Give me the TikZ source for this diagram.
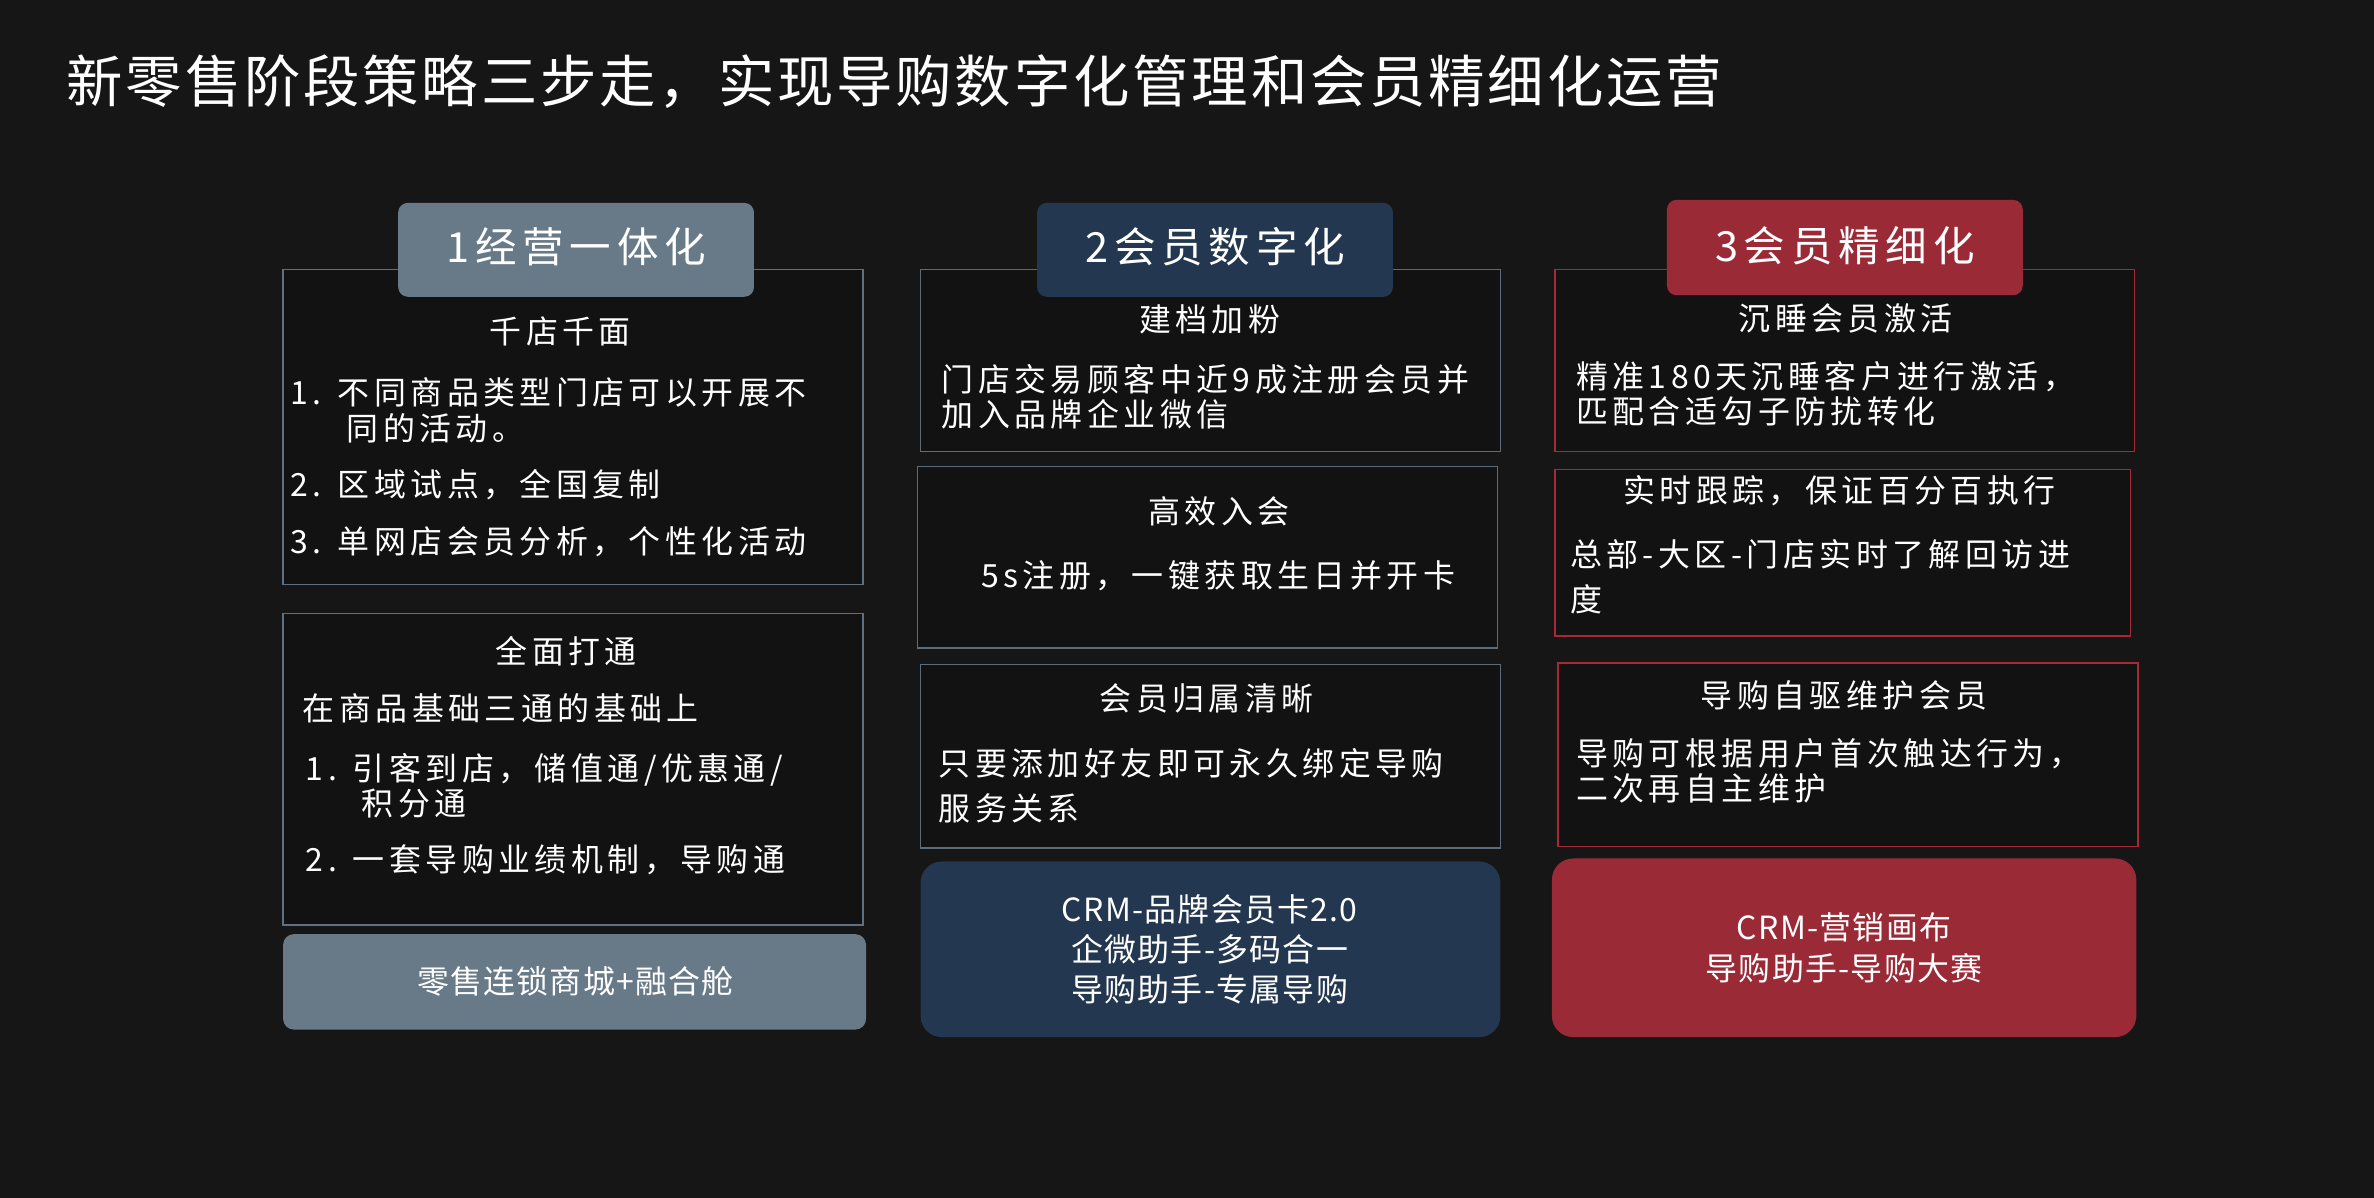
\documentclass[tikz,border=0pt]{standalone}
\usepackage{fontspec}
\setmainfont{Noto Sans CJK SC}
\newfontfamily\spacedfont[LetterSpace=14]{Noto Sans CJK SC}
\newfontfamily\titlefont[LetterSpace=5]{Noto Sans CJK SC}
\newfontfamily\botfont[LetterSpace=4]{Noto Sans CJK SC}
\begin{document}
\begin{tikzpicture}[x=0.1cm,y=-0.1cm,
  txt/.style={text=white,inner sep=0pt,font=\spacedfont\fontsize{60}{72}\selectfont},
  lt/.style={txt,anchor=west,align=left,font=\spacedfont\fontsize{60}{66}\selectfont},
  hdr/.style={rounded corners=18pt,text=white},
  bx/.style={line width=2.5pt,fill=boxbg},
  bot/.style={rounded corners=40pt},
  bt/.style={text=white,inner sep=0pt,align=center,font=\botfont\fontsize{60}{76}\selectfont}]
\definecolor{bg}{HTML}{171616}
\definecolor{boxbg}{HTML}{121212}
\definecolor{cgrey}{HTML}{687A88}
\definecolor{cnavy}{HTML}{243750}
\definecolor{cred}{HTML}{9B2A37}
\definecolor{bgrey}{HTML}{5F7180}
\definecolor{bnavy}{HTML}{5C6B78}
\definecolor{bred}{HTML}{A52A38}
\fill[bg] (0,0) rectangle (1568,791);
\useasboundingbox (0,0) rectangle (1568,791);
\node[txt,anchor=west,font=\titlefont\fontsize{106}{120}\selectfont] (title) at (44,54) {新零售阶段策略三步走，实现导购数字化管理和会员精细化运营};
% column 1
\draw[bx,draw=bgrey] (187,178) rectangle (570,386);
\draw[bx,draw=bgrey] (187,405) rectangle (570,611);
\fill[hdr,fill=cgrey] (263,134) rectangle (498,196);
\node[txt,font=\spacedfont\fontsize{78}{90}\selectfont] (h1) at (380.5,163) {1经营一体化};
\node[txt] (a1) at (370,219) {千店千面};
\node[lt] (a2) at (192,271) {1.\enspace 不同商品类型门店可以开展不\\\hspace{1.75em}同的活动。};
\node[lt] (a3) at (192,320) {2.\enspace 区域试点，全国复制};
\node[lt] (a4) at (192,358) {3.\enspace 单网店会员分析，个性化活动};
\node[txt] (b1) at (374,430) {全面打通};
\node[lt] (b2) at (200,468) {在商品基础三通的基础上};
\node[lt] (b3) at (202,519) {1.\enspace 引客到店，储值通/优惠通/\\\hspace{1.75em}积分通};
\node[lt] (b4) at (202,568) {2.\enspace 一套导购业绩机制，导购通};
\fill[rounded corners=20pt,fill=cgrey] (187,617) rectangle (572,680);
\node[bt] (c1) at (380,648) {零售连锁商城+融合舱};
% column 2
\draw[bx,draw=bnavy] (608,178) rectangle (991,298);
\draw[bx,draw=bnavy] (606,308) rectangle (989,428);
\draw[bx,draw=bnavy] (608,439) rectangle (991,560);
\fill[hdr,fill=cnavy] (685,134) rectangle (920,196);
\node[txt,font=\spacedfont\fontsize{78}{90}\selectfont] (h2) at (802.5,163) {2会员数字化};
\node[txt] (d1) at (799,211) {建档加粉};
\node[lt] (d2) at (622,262) {门店交易顾客中近9成注册会员并\\加入品牌企业微信};
\node[txt] (e1) at (805,338) {高效入会};
\node[lt] (e2) at (648,380) {5s注册，一键获取生日并开卡};
\node[txt] (f1) at (797,461) {会员归属清晰};
\node[lt,font=\spacedfont\fontsize{60}{84}\selectfont] (f2) at (620,519) {只要添加好友即可永久绑定导购\\服务关系};
\fill[bot,fill=cnavy] (608,569) rectangle (991,685);
\node[bt] (g1) at (799,627) {CRM-品牌会员卡2.0\\企微助手-多码合一\\导购助手-专属导购};
% column 3
\draw[bx,draw=bred] (1027,178) rectangle (1410,298);
\draw[bx,draw=bred] (1027,310) rectangle (1407,420);
\draw[bx,draw=bred] (1029,438) rectangle (1412,559);
\fill[hdr,fill=cred] (1101,132) rectangle (1336,195);
\node[txt,font=\spacedfont\fontsize{78}{90}\selectfont] (h3) at (1218.5,162) {3会员精细化};
\node[txt] (i1) at (1219,210) {沉睡会员激活};
\node[lt] (i2) at (1041,260) {精准180天沉睡客户进行激活，\\匹配合适勾子防扰转化};
\node[txt] (j1) at (1215,324) {实时跟踪，保证百分百执行};
\node[lt,font=\spacedfont\fontsize{60}{84}\selectfont] (j2) at (1037,381) {总部-大区-门店实时了解回访进\\度};
\node[txt] (k1) at (1218,459) {导购自驱维护会员};
\node[lt] (k2) at (1041,509) {导购可根据用户首次触达行为，\\二次再自主维护};
\fill[bot,fill=cred] (1025,567) rectangle (1411,685);
\node[bt] (l1) at (1218,626) {CRM-营销画布\\导购助手-导购大赛};
\end{tikzpicture}
\end{document}
